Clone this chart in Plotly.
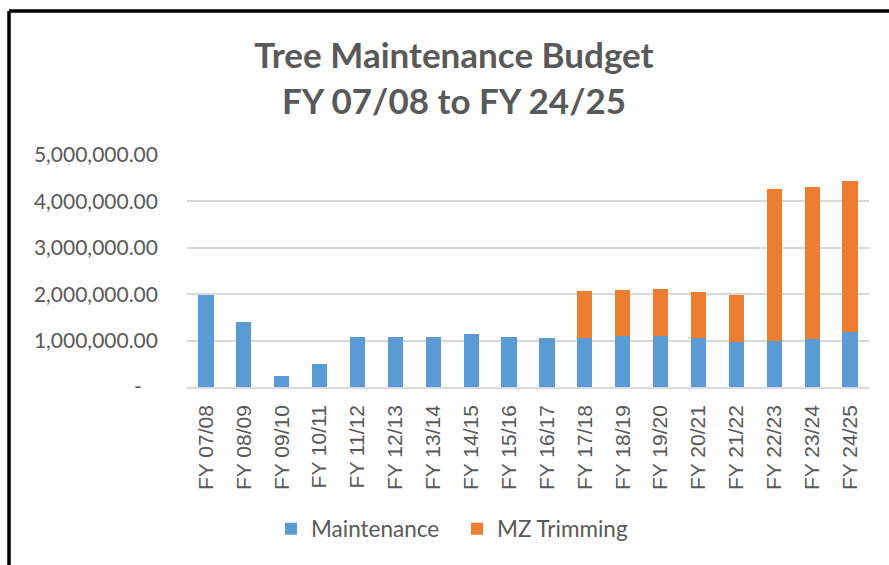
import plotly.graph_objects as go

categories = ["FY 07/08", "FY 08/09", "FY 09/10", "FY 10/11", "FY 11/12", "FY 12/13",
              "FY 13/14", "FY 14/15", "FY 15/16", "FY 16/17", "FY 17/18", "FY 18/19",
              "FY 19/20", "FY 20/21", "FY 21/22", "FY 22/23", "FY 23/24", "FY 24/25"]
maintenance = [1990000, 1410000, 240000, 490000, 1080000, 1080000,
               1080000, 1140000, 1080000, 1060000, 1060000, 1100000,
               1110000, 1050000, 980000, 1000000, 1040000, 1180000]
mz_trimming = [0, 0, 0, 0, 0, 0,
               0, 0, 0, 0, 1010000, 1000000,
               1010000, 1000000, 1010000, 3265000, 3260000, 3260000]
y_tickvals = [0, 1000000, 2000000, 3000000, 4000000, 5000000]
y_ticktext = ["-\u00a0\u00a0\u00a0", "1,000,000.00", "2,000,000.00", "3,000,000.00",
              "4,000,000.00", "5,000,000.00"]

W, H = 889, 565
L, R, T, B = 187, 20, 155, 178
pw, ph = W - L - R, H - T - B

def px(x):
    return (x - L) / pw

def py(y):
    return (H - B - y) / ph

fig = go.Figure()
fig.add_trace(go.Bar(x=categories, y=maintenance, name="Maintenance",
                     marker=dict(color="#5B9BD5", line=dict(width=0))))
fig.add_trace(go.Bar(x=categories, y=mz_trimming, name="MZ Trimming",
                     marker=dict(color="#ED7D31", line=dict(width=0))))

fig.update_layout(
    width=W, height=H, barmode="stack", bargap=0.6,
    margin=dict(l=L, r=R, t=T, b=B, pad=0),
    paper_bgcolor="white", plot_bgcolor="white",
    font=dict(family="Lato", color="#595959"),
    title=dict(text="<b>Tree Maintenance Budget<br>FY 07/08 to FY 24/25</b>",
               x=px(454), xref="paper", xanchor="center",
               y=1 - 68 / H, yref="container", yanchor="middle",
               font=dict(family="Lato", size=35, color="#595959")),
    showlegend=True,
    legend=dict(orientation="h", x=px(271), xanchor="left", y=py(529), yanchor="middle",
                traceorder="normal", entrywidth=141, entrywidthmode="pixels",
                font=dict(family="Lato", size=22.5, color="#595959"),
                bgcolor="rgba(0,0,0,0)"),
    xaxis=dict(tickangle=-90, tickfont=dict(family="Liberation Sans", size=21, color="#595959"),
               showline=True, linecolor="#D9D9D9", linewidth=1.5, ticks="",
               showgrid=False, ticklabelstandoff=8),
    yaxis=dict(range=[0, 5000000], tickvals=y_tickvals, ticktext=y_ticktext,
               tickfont=dict(family="Lato", size=21, color="#595959"),
               showgrid=True, gridcolor="#D9D9D9", gridwidth=1.5,
               zeroline=False, ticks="", ticklabelstandoff=28),
    shapes=[
        dict(type="line", xref="paper", yref="paper", x0=px(9), x1=px(895), y0=py(11), y1=py(11),
             line=dict(color="black", width=3.5)),
        dict(type="line", xref="paper", yref="paper", x0=px(9), x1=px(9), y0=py(11), y1=py(570),
             line=dict(color="black", width=3.5)),
    ],
)

fig.write_html("out.html")
